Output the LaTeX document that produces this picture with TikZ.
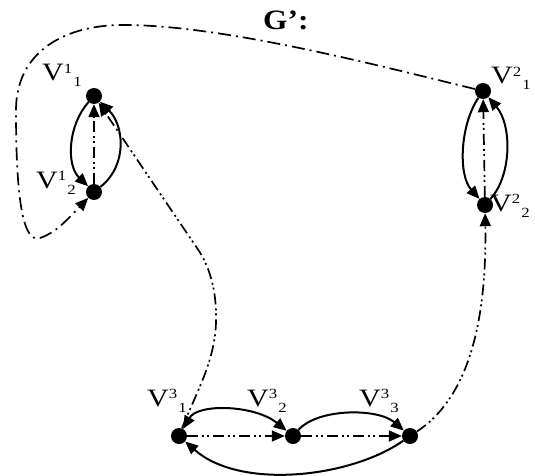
\documentclass[tikz,border=0pt]{standalone}
\usepackage{fontspec}
\setmainfont{Liberation Serif}
\usetikzlibrary{arrows.meta}
\newcommand\vlab[2]{\scalebox{1.2}[1]{\fontsize{25}{25}\selectfont V\raisebox{7.5pt}{\fontsize{14}{14}\selectfont #1}\hspace{1pt}\raisebox{-6pt}{\fontsize{14}{14}\selectfont #2}}}
\tikzset{
  dot/.style={circle,fill=black,inner sep=0pt,minimum size=16pt},
  lab/.style={anchor=base west,inner sep=0pt},
  tip/.style={-{Triangle[length=13pt,width=11pt]}},
  solidedge/.style={line width=2pt,tip},
  ddot/.style={line width=1.7pt,tip,dash pattern=on 11pt off 4pt on 2pt off 3pt on 2pt off 4pt},
  dline/.style={line width=1.7pt,tip,dash pattern=on 13pt off 5pt on 2pt off 5pt},
}
\begin{document}
\begin{tikzpicture}[x=1pt,y=-1pt]
\useasboundingbox (0,0) rectangle (535,476);
% nodes
\node[dot] (v11) at (94,96) {};
\node[dot] (v12) at (94,192) {};
\node[dot] (v21) at (483,91) {};
\node[dot] (v22) at (485,205) {};
\node[dot] (v31) at (179,436) {};
\node[dot] (v32) at (293,436) {};
\node[dot] (v33) at (410,436) {};
% labels
\node[lab] (title) at (263,30) {\scalebox{1.12}[1]{\fontsize{28}{28}\selectfont\bfseries G’:}};
\node[lab] (l11) at (42,81) {\vlab{1}{1}};
\node[lab] (l12) at (36,188) {\vlab{1}{2}};
\node[lab] (l21) at (491,84) {\vlab{2}{1}};
\node[lab] (l22) at (490,211) {\vlab{2}{2}};
\node[lab] (l31) at (147,406) {\vlab{3}{1}};
\node[lab] (l32) at (247,406) {\vlab{3}{2}};
\node[lab] (l33) at (359,406) {\vlab{3}{3}};
% group 1
\draw[solidedge] (v11) .. controls (68,125) and (66,165) .. (v12);
\draw[solidedge] (v12) .. controls (128,165) and (124,125) .. (v11);
\draw[ddot] (v12) -- (v11);
\draw[ddot] (v31) .. controls (195,395) and (215,362) .. (216,322) .. controls (217,290) and (209,265) .. (197,248) -- (v11);
\draw[dline] (v21) .. controls (380,66) and (220,24) .. (120,25) .. controls (60,26) and (16,55) .. (16,110) .. controls (16,180) and (20,245) .. (40,238) .. controls (55,233) and (65,222) .. (v12);
% group 2
\draw[solidedge] (v21) .. controls (460,125) and (458,175) .. (v22);
\draw[solidedge] (v22) .. controls (512,175) and (512,125) .. (v21);
\draw[ddot] (v22) -- (v21);
\draw[ddot] (v33) .. controls (465,400) and (487,330) .. (v22);
% group 3
\draw[ddot] (v31) -- (v32);
\draw[ddot] (v32) -- (v33);
\draw[line width=2pt,{Triangle[length=13pt,width=11pt]}-{Triangle[length=13pt,width=11pt]}] (v31) .. controls (198,403) and (255,405) .. (v32);
\draw[solidedge] (v32) .. controls (318,408) and (378,408) .. (v33);
\draw[solidedge] (v33) .. controls (350,478) and (240,490) .. (v31);
\end{tikzpicture}
\end{document}
